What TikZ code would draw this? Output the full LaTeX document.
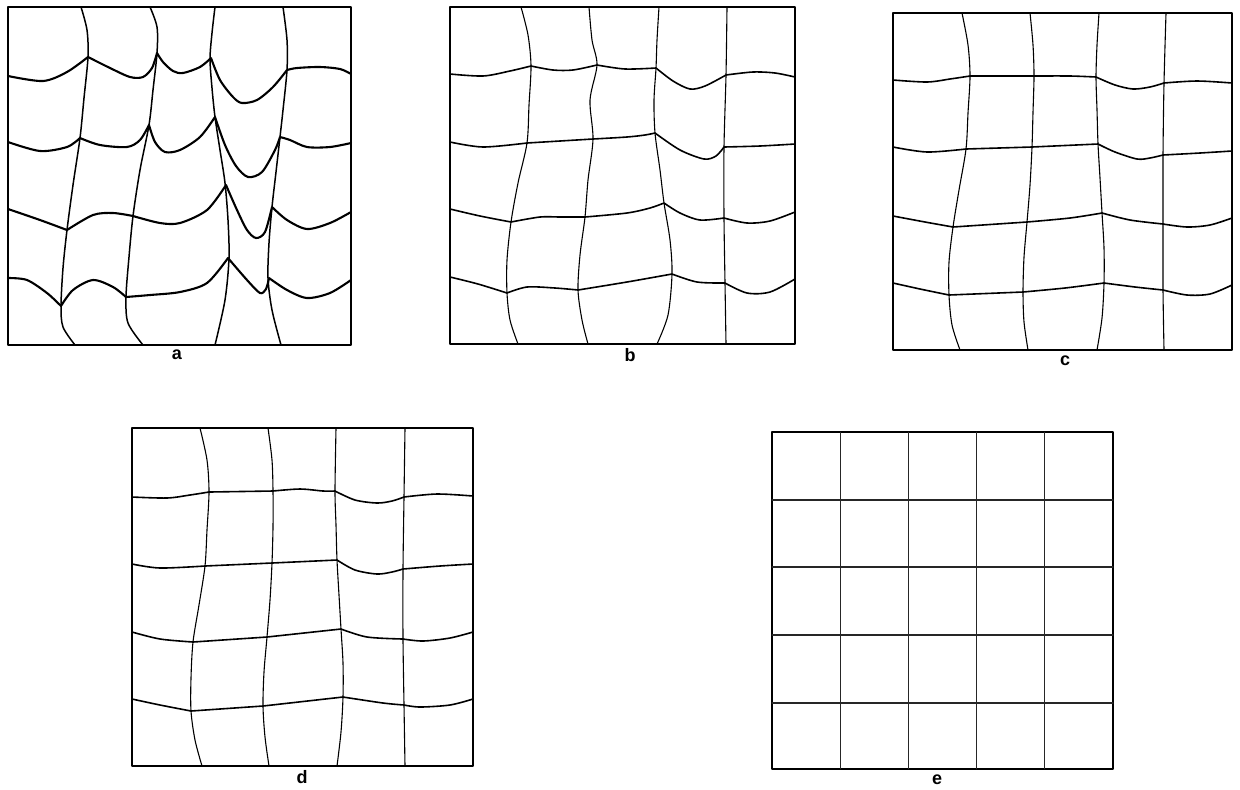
\documentclass[tikz,border=0pt]{standalone}
\usepackage{fontspec}
\setsansfont{Liberation Sans}
\begin{document}
\begin{tikzpicture}[x=0.5pt,y=-0.5pt,line cap=round,line join=round,
  frame/.style={draw=black,line width=0.55pt},
  vl/.style={draw=black,line width=0.55pt},
  vla/.style={draw=black,line width=0.75pt},
  hl/.style={draw=black,line width=0.8pt},
  hla/.style={draw=black,line width=1.05pt},
  el/.style={draw=black!85,line width=0.45pt},
  lab/.style={font=\sffamily\bfseries\fontsize{9}{10}\selectfont,inner sep=0pt}]
\useasboundingbox (0,0) rectangle (1240,789);
\fill[white] (0,0) rectangle (1240,789);

% ---------------- panel a ----------------
\draw[frame] (8,7) rectangle (351,345);
\draw[vla] plot[smooth] coordinates {(81,7) (87,30) (88,57) (84,98) (80,138) (73,185) (67,230) (63,268) (61,306) (63,327) (75,345)};
\draw[vla] plot[smooth] coordinates {(150,7) (157,27) (157,53) (153,90) (149,125) (140,170) (133,216) (129,257) (126,297) (128,323) (143,345)};
\draw[vla] plot[smooth] coordinates {(215,7) (212,33) (210,59) (212,88) (215,117) (220,150) (225,183) (228,220) (229,258) (225,300) (215,345)};
\draw[vla] plot[smooth] coordinates {(283,7) (287,40) (287,70) (283,110) (280,137) (276,172) (272,207) (269,243) (268,278) (272,310) (281,345)};
% H1
\draw[hla] plot[smooth] coordinates {(8,76) (43,81) (67,72) (88,57)}
  plot[smooth] coordinates {(88,57) (110,68) (130,77) (143,77) (152,68) (157,53)}
  plot[smooth] coordinates {(157,53) (163,62) (173,71) (183,73) (200,67) (211,58)}
  plot[smooth] coordinates {(211,58) (220,80) (233,97) (242,103) (257,100) (273,87) (287,70)}
  plot[smooth] coordinates {(287,70) (297,68) (320,67) (340,69) (351,74)};
% H2
\draw[hla] plot[smooth] coordinates {(8,142) (40,151) (67,147) (80,138)}
  plot[smooth] coordinates {(80,138) (100,145) (127,147) (140,140) (149,125)}
  plot[smooth] coordinates {(149,125) (155,142) (165,152) (180,150) (200,137) (215,117)}
  plot[smooth] coordinates {(215,117) (225,145) (236,166) (248,177) (262,172) (275,150) (280,137)}
  plot[smooth] coordinates {(280,137) (290,140) (307,147) (330,147) (351,143)};
% H3
\draw[hla] plot[smooth] coordinates {(8,209) (40,220) (67,230)}
  plot[smooth] coordinates {(67,230) (93,215) (113,213) (133,216)}
  plot[smooth] coordinates {(133,216) (160,223) (180,223) (207,210) (226,185)}
  plot[smooth] coordinates {(226,185) (237,210) (247,230) (256,238) (265,232) (272,207)}
  plot[smooth] coordinates {(272,207) (287,220) (307,229) (330,223) (351,212)};
% H4
\draw[hla] plot[smooth] coordinates {(8,278) (27,280) (47,293) (61,306)}
  plot[smooth] coordinates {(61,306) (73,290) (93,280) (113,287) (126,297)}
  plot[smooth] coordinates {(126,297) (150,295) (180,292) (207,283) (228,258)}
  plot[smooth] coordinates {(228,258) (247,280) (260,293) (266,289) (269,278)}
  plot[smooth] coordinates {(269,278) (287,290) (307,298) (330,293) (351,280)};
\node[lab] (la) at (177,355) {a};

% ---------------- panel b ----------------
\draw[frame] (450,7) rectangle (795,344);
\draw[vl] plot[smooth] coordinates {(521,7) (528,35) (531,66) (529,105) (527,143) (518,183) (511,222) (507,260) (507,293) (510,320) (518,344)};
\draw[vl] plot[smooth] coordinates {(589,7) (592,40) (597,65) (590,100) (593,139) (588,180) (585,217) (580,255) (578,290) (582,320) (588,344)};
\draw[vl] plot[smooth] coordinates {(659,7) (657,40) (656,68) (654,100) (655,133) (660,170) (664,203) (670,240) (672,274) (668,315) (657,344)};
\draw[vl] plot[smooth] coordinates {(727,7) (726,75) (724,147) (724,218) (725,283) (726,344)};
\draw[hl] plot[smooth] coordinates {(450,74) (483,76) (510,71) (531,66)}
  plot[smooth] coordinates {(531,66) (553,70) (573,70) (597,65)}
  plot[smooth] coordinates {(597,65) (625,69) (656,68)}
  plot[smooth] coordinates {(656,68) (673,81) (690,89) (705,86) (726,75)}
  plot[smooth] coordinates {(726,75) (753,72) (775,73) (795,77)};
\draw[hl] plot[smooth] coordinates {(450,142) (483,147) (527,143)}
  plot[smooth] coordinates {(527,143) (560,141) (593,139)}
  plot[smooth] coordinates {(593,139) (627,137) (645,135) (655,133)}
  plot[smooth] coordinates {(655,133) (680,150) (704,159) (716,156) (724,147)}
  plot[smooth] coordinates {(724,147) (760,146) (795,144)};
\draw[hl] plot[smooth] coordinates {(450,209) (480,216) (511,222)}
  plot[smooth] coordinates {(511,222) (540,217) (560,217) (585,217)}
  plot[smooth] coordinates {(585,217) (627,213) (650,208) (664,203)}
  plot[smooth] coordinates {(664,203) (680,213) (700,220) (724,218)}
  plot[smooth] coordinates {(724,218) (747,223) (770,221) (795,212)};
\draw[hl] plot[smooth] coordinates {(450,277) (478,284) (507,293)}
  plot[smooth] coordinates {(507,293) (527,287) (555,288) (578,290)}
  plot[smooth] coordinates {(578,290) (627,282) (672,274)}
  plot[smooth] coordinates {(672,274) (697,282) (725,283)}
  plot[smooth] coordinates {(725,283) (747,293) (770,292) (795,279)};
\node[lab] (lb) at (630,355) {b};

% ---------------- panel c ----------------
\draw[frame] (893,13) rectangle (1232,350);
\draw[vl] plot[smooth] coordinates {(962,13) (968,45) (970,76) (968,113) (966,149) (959,190) (953,227) (949,262) (949,295) (952,325) (960,350)};
\draw[vl] plot[smooth] coordinates {(1030,13) (1033,45) (1034,76) (1033,112) (1032,147) (1030,185) (1027,222) (1024,257) (1023,292) (1024,322) (1028,350)};
\draw[vl] plot[smooth] coordinates {(1099,13) (1097,45) (1096,77) (1097,110) (1098,144) (1100,178) (1102,213) (1104,248) (1104,283) (1102,318) (1097,350)};
\draw[vl] plot[smooth] coordinates {(1166,13) (1164,83) (1163,155) (1163,224) (1163,290) (1164,350)};
\draw[hl] plot[smooth] coordinates {(893,80) (927,82) (950,79) (970,76)}
  plot[smooth] coordinates {(970,76) (1034,76)}
  plot[smooth] coordinates {(1034,76) (1070,76) (1096,77)}
  plot[smooth] coordinates {(1096,77) (1115,85) (1133,89) (1150,87) (1164,83)}
  plot[smooth] coordinates {(1164,83) (1197,81) (1232,83)};
\draw[hl] plot[smooth] coordinates {(893,147) (927,152) (966,149)}
  plot[smooth] coordinates {(966,149) (1032,147)}
  plot[smooth] coordinates {(1032,147) (1098,144)}
  plot[smooth] coordinates {(1098,144) (1115,152) (1137,159) (1150,158) (1163,155)}
  plot[smooth] coordinates {(1163,155) (1200,153) (1232,151)};
\draw[hl] plot[smooth] coordinates {(893,216) (925,222) (953,227)}
  plot[smooth] coordinates {(953,227) (1027,222)}
  plot[smooth] coordinates {(1027,222) (1070,218) (1102,213)}
  plot[smooth] coordinates {(1102,213) (1130,220) (1163,224)}
  plot[smooth] coordinates {(1163,224) (1187,227) (1210,225) (1232,218)};
\draw[hl] plot[smooth] coordinates {(893,283) (920,289) (949,295)}
  plot[smooth] coordinates {(949,295) (1023,292)}
  plot[smooth] coordinates {(1023,292) (1065,288) (1104,283)}
  plot[smooth] coordinates {(1104,283) (1135,287) (1163,290)}
  plot[smooth] coordinates {(1163,290) (1187,295) (1210,294) (1232,285)};
\node[lab] (lc) at (1065,361) {c};

% ---------------- panel d ----------------
\draw[frame] (132,428) rectangle (473,766);
\draw[vl] plot[smooth] coordinates {(200,428) (207,460) (209,492) (207,530) (205,566) (199,605) (193,642) (191,678) (191,711) (195,740) (202,766)};
\draw[vl] plot[smooth] coordinates {(268,428) (272,460) (273,491) (273,527) (272,563) (270,600) (267,637) (264,672) (263,706) (265,737) (269,766)};
\draw[vl] plot[smooth] coordinates {(336,428) (335,491) (336,525) (337,560) (339,595) (341,629) (343,663) (343,697) (341,732) (337,766)};
\draw[vl] plot[smooth] coordinates {(405,428) (404,497) (403,569) (403,639) (404,705) (405,766)};
\draw[hl] plot[smooth] coordinates {(132,497) (167,498) (190,495) (209,492)}
  plot[smooth] coordinates {(209,492) (273,491)}
  plot[smooth] coordinates {(273,491) (300,489) (323,491) (335,491)}
  plot[smooth] coordinates {(335,491) (355,500) (377,503) (392,501) (404,497)}
  plot[smooth] coordinates {(404,497) (437,494) (473,496)};
\draw[hl] plot[smooth] coordinates {(132,564) (160,568) (205,566)}
  plot[smooth] coordinates {(205,566) (272,563)}
  plot[smooth] coordinates {(272,563) (337,560)}
  plot[smooth] coordinates {(337,560) (355,570) (377,574) (392,572) (403,569)}
  plot[smooth] coordinates {(403,569) (440,566) (473,564)};
\draw[hl] plot[smooth] coordinates {(132,632) (160,639) (193,642)}
  plot[smooth] coordinates {(193,642) (267,637)}
  plot[smooth] coordinates {(267,637) (341,629)}
  plot[smooth] coordinates {(341,629) (367,637) (403,639)}
  plot[smooth] coordinates {(403,639) (423,641) (450,638) (473,632)};
\draw[hl] plot[smooth] coordinates {(132,699) (160,705) (191,711)}
  plot[smooth] coordinates {(191,711) (263,706)}
  plot[smooth] coordinates {(263,706) (343,697)}
  plot[smooth] coordinates {(343,697) (383,703) (404,705)}
  plot[smooth] coordinates {(404,705) (420,707) (450,705) (473,699)};
\node[lab] (ld) at (302,777) {d};

% ---------------- panel e ----------------
\draw[frame] (772,432) rectangle (1113,769);
\foreach \xx in {840,908,976,1044} \draw[el] (\xx,432) -- (\xx,769);
\foreach \yy in {500,567,635,703} \draw[el,line width=0.55pt] (772,\yy) -- (1113,\yy);
\node[lab] (le) at (937,780) {e};
\end{tikzpicture}
\end{document}
